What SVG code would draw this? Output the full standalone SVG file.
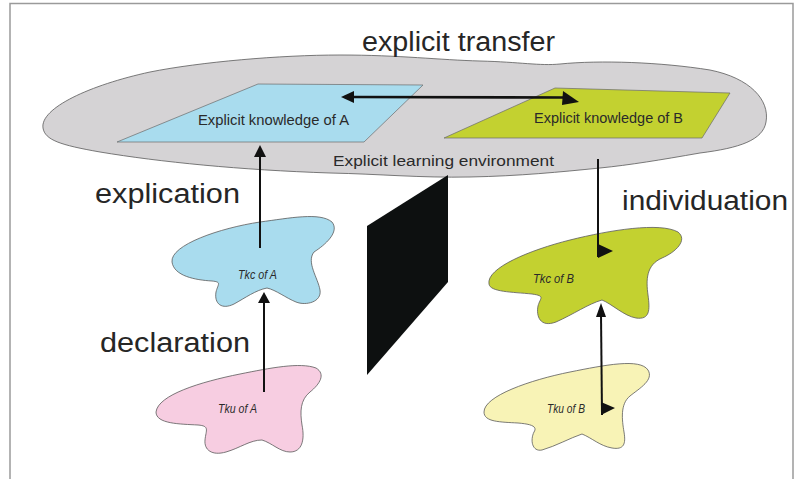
<svg xmlns="http://www.w3.org/2000/svg" width="797" height="479" viewBox="0 0 797 479">
  <style>
    .frame { fill: none; stroke: #9a9a9a; stroke-width: 1.5; }
    .blob { stroke: #5a5a5a; stroke-width: 0.8; }
    .plane { stroke: #6a6a6a; stroke-width: 0.7; }
    .big { font-family: "Liberation Sans", Arial, sans-serif; font-size: 27px; fill: #262626; }
    .mid { font-family: "Liberation Sans", Arial, sans-serif; font-size: 14px; fill: #2a2a2a; }
    .small { font-family: "Liberation Sans", Arial, sans-serif; font-size: 13.5px; font-style: italic; fill: #2a2a2a; }
    .line { fill: none; stroke: #111; stroke-width: 2.6; }
    .thin { fill: none; stroke: #111; stroke-width: 2; }
    .head { fill: #111; }
  </style>

  <rect width="797" height="479" fill="#ffffff"/>

  <!-- page frame -->
  <path class="frame" d="M10,479 V3.5 H793 V479"/>

  <!-- shared learning environment -->
  <g id="environment">
    <path fill="#d5d3d5" class="blob" d="M43,128 C40,108 90,85 150,72 C200,62 280,55 340,55 C400,55 440,60 480,61 C520,62 540,66 560,64 C600,60 660,62 710,70 C750,78 770,100 766,122 C763,140 740,148 700,153 C660,160 630,165 600,168 C560,172 520,176 470,177 C420,178 380,174 330,173 C240,170 160,162 100,152 C60,145 45,140 43,128 Z"/>
    <text class="mid" x="333" y="166" textLength="221" lengthAdjust="spacingAndGlyphs">Explicit learning environment</text>
  </g>

  <g id="explicit-A">
    <polygon class="plane" fill="#a9dcee" points="117,142 258,84 423,85 364,142"/>
    <text class="mid" x="198" y="125" textLength="151" lengthAdjust="spacingAndGlyphs">Explicit knowledge of A</text>
  </g>

  <g id="explicit-B">
    <polygon class="plane" fill="#c3d130" points="444,138 555,88 730,93 702,138"/>
    <text class="mid" x="534" y="123" textLength="149" lengthAdjust="spacingAndGlyphs">Explicit knowledge of B</text>
  </g>

  <!-- barrier between the two sides -->
  <g id="barrier">
    <polygon fill="#0d1010" points="367,226 448,175 448,282 367,375"/>
  </g>

  <g id="tkc-A">
    <path class="blob" fill="#a9dcee" d="M172,262 C170,245 220,228 260,222 C290,218 320,212 332,222 C340,232 325,245 314,252 C306,262 318,278 320,290 C322,302 306,306 296,302 C286,298 276,290 267,288 C256,290 245,298 234,304 C222,310 214,304 216,292 C218,284 222,282 212,281 C195,280 174,276 172,262 Z"/>
    <text class="small" x="238" y="279" textLength="39" lengthAdjust="spacingAndGlyphs">Tkc of A</text>
  </g>

  <g id="tku-A">
    <path class="blob" fill="#f7cde1" d="M156,412 C158,395 200,382 240,374 C270,368 300,362 316,368 C326,374 320,384 310,392 C300,400 300,412 302,425 C305,440 302,452 290,452 C280,452 272,443 262,440 C250,440 240,448 226,452 C212,456 204,450 205,440 C206,430 210,426 198,425 C180,424 156,424 156,412 Z"/>
    <text class="small" x="218" y="413" textLength="39" lengthAdjust="spacingAndGlyphs">Tku of A</text>
  </g>

  <g id="tkc-B">
    <path class="blob" fill="#c3d130" d="M489,284 C486,268 530,250 570,240 C610,230 660,222 678,232 C688,240 676,252 662,258 C646,265 646,280 648,295 C650,310 650,320 636,318 C624,316 612,304 602,300 C588,304 574,314 556,322 C540,328 536,316 538,306 C540,298 546,296 532,294 C512,292 490,292 489,284 Z"/>
    <text class="small" x="533" y="283" textLength="41" lengthAdjust="spacingAndGlyphs">Tkc of B</text>
  </g>

  <g id="tku-B">
    <path class="blob" fill="#f8f3b6" d="M484,412 C484,396 530,380 570,372 C605,365 640,358 648,370 C654,380 640,388 630,396 C620,404 622,420 624,432 C626,444 624,450 612,448 C600,446 592,438 582,434 C570,438 556,446 542,450 C532,452 530,440 534,432 C538,426 530,424 518,423 C500,422 484,422 484,412 Z"/>
    <text class="small" x="547" y="413" textLength="38" lengthAdjust="spacingAndGlyphs">Tku of B</text>
  </g>

  <!-- process labels -->
  <g id="labels">
    <text class="big" x="362" y="51" textLength="193" lengthAdjust="spacingAndGlyphs">explicit transfer</text>
    <text class="big" x="95" y="203" textLength="145" lengthAdjust="spacingAndGlyphs">explication</text>
    <text class="big" x="100" y="352" textLength="150" lengthAdjust="spacingAndGlyphs">declaration</text>
    <text class="big" x="622" y="210" textLength="166" lengthAdjust="spacingAndGlyphs">individuation</text>
  </g>

  <g id="connectors">
    <!-- explicit transfer A <-> B -->
    <line class="line" x1="352" y1="97" x2="566" y2="97.5"/>
    <polygon class="head" points="341,97 354,91 354,103"/>
    <polygon class="head" points="563,91 579,102 562,105"/>
    <!-- explication -->
    <line class="thin" x1="260" y1="248" x2="260" y2="155"/>
    <polygon class="head" points="260,145 254,157 266,157"/>
    <!-- declaration -->
    <line class="thin" x1="264" y1="392" x2="264" y2="300"/>
    <polygon class="head" points="264,292 258,303 270,303"/>
    <!-- individuation -->
    <line class="thin" x1="598" y1="159" x2="598" y2="257"/>
    <polygon class="head" points="598,244 613,251 598,258"/>
    <!-- Tku of B <-> Tkc of B -->
    <line class="thin" x1="601" y1="314" x2="602" y2="415"/>
    <polygon class="head" points="601,303 596,317 606,317"/>
    <polygon class="head" points="601,402 615,408 601,415"/>
  </g>
</svg>
